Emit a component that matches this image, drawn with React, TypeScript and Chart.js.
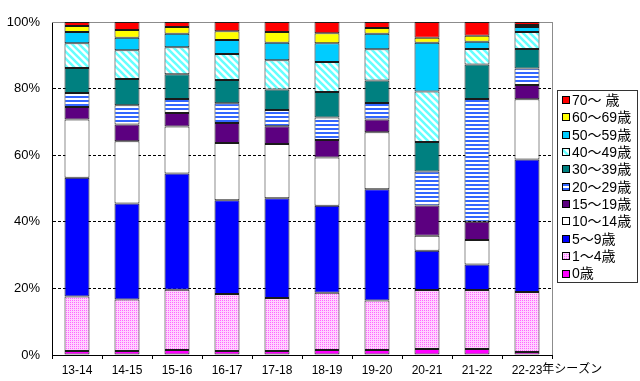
import React, { useEffect, useRef } from 'react';
import { Chart, registerables } from 'chart.js';

Chart.register(...registerables);

const seasons = ['13-14', '14-15', '15-16', '16-17', '17-18', '18-19', '19-20', '20-21', '21-22', '22-23'];
const seasonSuffix = '年シーズン';

const ageLabels = ['0歳', '1～4歳', '5～9歳', '10～14歳', '15～19歳', '20～29歳', '30～39歳', '40～49歳', '50～59歳', '60～69歳', '70～ 歳'];

const age0 = [1.2, 1.2, 1.5, 1.2, 1.2, 1.5, 1.5, 1.8, 1.8, 0.9];
const age1to4 = [16.4, 15.5, 18.1, 17.1, 15.9, 17.2, 14.9, 17.7, 17.7, 18.0];
const age5to9 = [35.6, 28.8, 34.9, 28.2, 30.0, 26.1, 33.4, 11.8, 7.7, 39.8];
const age10to14 = [17.5, 18.7, 14.1, 17.2, 16.3, 14.5, 17.1, 4.5, 7.3, 18.1];
const age15to19 = [3.8, 5.0, 4.1, 6.0, 5.3, 5.3, 3.8, 9.1, 5.5, 4.3];
const age20to29 = [4.2, 5.8, 4.2, 5.9, 4.9, 6.7, 5.0, 10.2, 36.9, 4.9];
const age30to39 = [7.5, 7.9, 7.4, 7.0, 6.1, 7.7, 6.7, 8.9, 10.3, 5.9];
const age40to49 = [7.4, 8.6, 8.1, 7.8, 8.8, 9.0, 9.4, 15.1, 4.7, 5.1];
const age50to59 = [3.4, 3.8, 4.1, 4.2, 5.3, 5.6, 4.7, 14.7, 2.2, 1.5];
const age60to69 = [1.8, 2.3, 2.0, 2.6, 3.2, 3.0, 1.7, 1.5, 1.8, 0.6];
const age70plus = [1.2, 2.4, 1.5, 2.8, 3.0, 3.4, 1.8, 4.7, 4.1, 0.9];

const seriesValues = [age0, age1to4, age5to9, age10to14, age15to19, age20to29, age30to39, age40to49, age50to59, age60to69, age70plus];

const yTickValues = [0, 20, 40, 60, 80, 100];

const FONT = "'Liberation Sans', Arial, 'Noto Sans CJK JP', sans-serif";

type Fill = string | CanvasPattern;

function dotPattern(ctx: CanvasRenderingContext2D): CanvasPattern {
  const c = document.createElement('canvas');
  c.width = 2; c.height = 2;
  const g = c.getContext('2d')!;
  g.fillStyle = '#ffd2ff';
  g.fillRect(0, 0, 2, 2);
  g.fillStyle = '#ff66ff';
  g.fillRect(0, 0, 1, 1);
  return ctx.createPattern(c, 'repeat')!;
}

function hStripePattern(ctx: CanvasRenderingContext2D): CanvasPattern {
  const c = document.createElement('canvas');
  c.width = 4; c.height = 4;
  const g = c.getContext('2d')!;
  g.fillStyle = '#ffffff';
  g.fillRect(0, 0, 4, 4);
  g.fillStyle = '#3366ff';
  g.fillRect(0, 0, 4, 2);
  return ctx.createPattern(c, 'repeat')!;
}

function diagPattern(ctx: CanvasRenderingContext2D): CanvasPattern {
  const s = 7;
  const c = document.createElement('canvas');
  c.width = s; c.height = s;
  const g = c.getContext('2d')!;
  g.fillStyle = '#ffffff';
  g.fillRect(0, 0, s, s);
  g.strokeStyle = '#66ffff';
  g.lineWidth = 2.6;
  g.beginPath();
  g.moveTo(-1, -1); g.lineTo(s + 1, s + 1);
  g.moveTo(-1, s - 1); g.lineTo(1, s + 1);
  g.moveTo(s - 1, -1); g.lineTo(s + 1, 1);
  g.stroke();
  return ctx.createPattern(c, 'repeat')!;
}

export default function App() {
  const ref = useRef<HTMLCanvasElement | null>(null);

  useEffect(() => {
    const canvas = ref.current!;
    const ctx = canvas.getContext('2d')!;
    const fills: Fill[] = [
      '#ff00ff',
      dotPattern(ctx),
      '#0000ff',
      '#ffffff',
      '#5c0080',
      hStripePattern(ctx),
      '#008080',
      diagPattern(ctx),
      '#00ccff',
      '#ffff00',
      '#ff0000',
    ];

    const frameAndLegend = {
      id: 'frameAndLegend',
      beforeDatasetsDraw(chart: any) {
        const { ctx: c, chartArea: a } = chart;
        c.save();
        c.strokeStyle = '#8c8c8c';
        c.lineWidth = 1;
        c.beginPath();
        c.moveTo(a.left, Math.round(a.top) + 0.5);
        c.lineTo(a.right, Math.round(a.top) + 0.5);
        c.moveTo(Math.round(a.right) + 0.5, a.top);
        c.lineTo(Math.round(a.right) + 0.5, a.bottom);
        c.stroke();
        c.restore();
      },
      afterDraw(chart: any) {
        const { ctx: c, chartArea: a } = chart;
        const ds = chart.data.datasets;
        const rowH = 17.35;
        const lx = Math.round(a.right) + 5;
        const ly = 90;
        const lw = 80;
        const lh = 192;
        c.save();
        c.fillStyle = '#ffffff';
        c.fillRect(lx, ly, lw, lh);
        c.strokeStyle = '#333333';
        c.lineWidth = 1;
        c.strokeRect(lx + 0.5, ly + 0.5, lw, lh);
        c.font = `14px ${FONT}`;
        c.textBaseline = 'middle';
        c.textAlign = 'left';
        for (let i = 0; i < ds.length; i++) {
          const d = ds[ds.length - 1 - i];
          const cy = ly + 10 + i * rowH;
          const bx = lx + 5;
          const by = Math.round(cy - 4);
          c.fillStyle = d.backgroundColor;
          c.fillRect(bx, by, 7, 7);
          c.strokeStyle = '#000000';
          c.strokeRect(bx + 0.5, by + 0.5, 7, 7);
          c.fillStyle = '#000000';
          c.fillText(d.label, lx + 15, cy + 1);
        }
        const xs = chart.scales.x;
        const lastIdx = seasons.length - 1;
        c.font = `12px ${FONT}`;
        const lastW = c.measureText(seasons[lastIdx]).width;
        const px = xs.getPixelForValue(lastIdx) + lastW / 2;
        c.fillText(seasonSuffix, px, a.bottom + 15);
        c.restore();
      },
    };

    const chart = new Chart(canvas, {
      type: 'bar',
      data: {
        labels: seasons,
        datasets: seriesValues.map((vals, i) => ({
          label: ageLabels[i],
          data: vals,
          backgroundColor: fills[i] as any,
          borderColor: '#1a1a1a',
          borderWidth: 1,
          borderSkipped: false,
          categoryPercentage: 1,
          barPercentage: 0.5,
        })),
      },
      options: {
        responsive: false,
        animation: false,
        layout: { padding: { top: 22, right: 88, left: 0, bottom: 0 } },
        plugins: {
          legend: { display: false },
          tooltip: { enabled: false },
        },
        scales: {
          x: {
            stacked: true,
            grid: {
              display: true,
              drawOnChartArea: false,
              drawTicks: true,
              tickLength: 4,
              color: '#000000',
              tickColor: '#000000',
            },
            border: { display: true, color: '#000000', width: 1 },
            ticks: {
              color: '#000000',
              font: { family: FONT, size: 12 },
              padding: 4,
              maxRotation: 0,
              autoSkip: false,
            },
            afterFit(scale: any) { scale.height = 26; },
          },
          y: {
            stacked: true,
            min: 0,
            max: 100,
            afterBuildTicks(scale: any) {
              scale.ticks = yTickValues.map((v) => ({ value: v }));
            },
            grid: {
              drawTicks: false,
              tickLength: 0,
              lineWidth: 1,
              color: (c: any) => (c.tick && (c.tick.value === 0 || c.tick.value === 100) ? 'rgba(0,0,0,0)' : '#000000'),
            },
            border: { display: true, color: '#000000', width: 1, dash: [3, 2] },
            ticks: {
              color: '#000000',
              font: { family: FONT, size: 13 },
              padding: 12,
              callback: (v: any) => `${v}%`,
            },
            afterFit(scale: any) { scale.width = 52; },
          },
        },
      },
      plugins: [frameAndLegend],
    });

    return () => chart.destroy();
  }, []);

  return (
    <div style={{ position: 'fixed', left: 0, top: 0, width: 640, height: 381, background: '#ffffff' }}>
      <canvas ref={ref} width={640} height={381} style={{ display: 'block' }} />
    </div>
  );
}
